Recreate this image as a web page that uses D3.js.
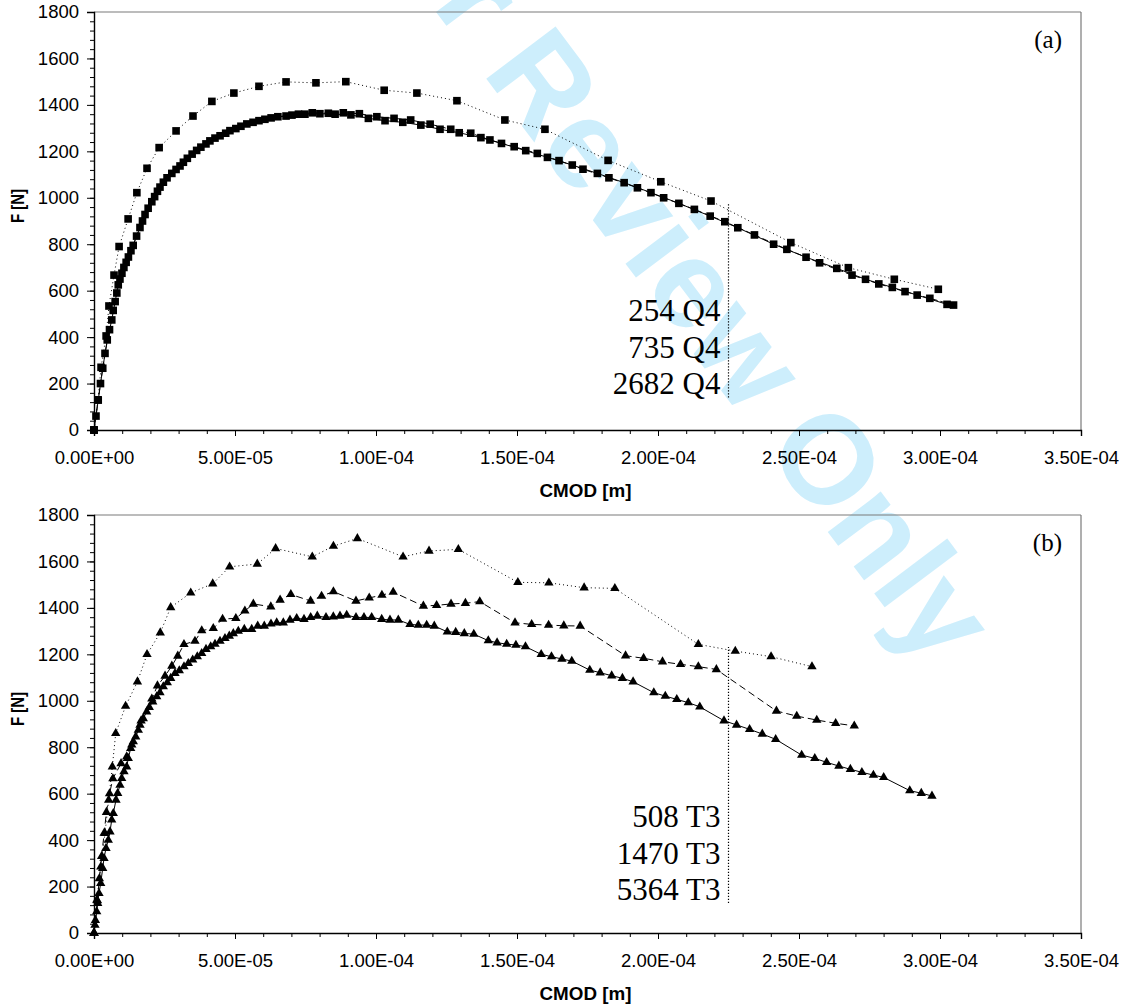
<!DOCTYPE html>
<html><head><meta charset="utf-8">
<script src="https://cdn.jsdelivr.net/npm/d3@7/dist/d3.min.js"></script>
<style>body{margin:0;background:#fff;} svg{display:block;}</style>
</head><body>
<svg id="chart" width="1127" height="1008"></svg>
<script>
// ---------- DATA (CMOD in micrometres, F in N) ----------
// Panel (a) – square markers
const aDottedX = [0,1.4,2.5,4.3,5.3,7.1,8.9,12.1,15.2,18.8,23.1,29.1,35.1,41.8,49.6,58.5,68.1,78.7,89.3,102.9,114.5,128.7,145.7,159.9,182.3,201.0,218.8,247.1,267.5,283.8,299.4];
const aDottedF = [0,130,270,405,534,667,790,909,1022,1127,1216,1288,1352,1415,1451,1480,1499,1495,1500,1463,1451,1418,1335,1295,1161,1069,986,807,699,649,606];
const aDashedX = [0,0.7,2.3,3.9,5.5,6.8,8.1,9.2,10.6,12.2,13.9,16.3,18.1,20.5,22.5,24.6,27.6,30.5,33.1,36.4,39.7,42.9,46.7,50.3,54.2,58.5,62.8,68.1,72.5,77.4,83.1,88.4,94.1,100.3,106.4,112.3,119.2,126.5,133.6,140.4,149.0,157.2,164.9,173.4,182.6,192.7,202.0,212.9,223.7,234.2,245.7,257.3,268.8,278.3,287.6,296.4,304.8];
const aDashedF = [0,60,200,330,432,515,590,650,700,745,795,872,928,983,1028,1067,1105,1137,1170,1204,1232,1257,1278,1298,1318,1332,1344,1352,1360,1366,1364,1366,1362,1349,1342,1335,1317,1295,1278,1249,1220,1191,1160,1123,1086,1043,1000,950,897,840,778,720,667,629,596,567,538];
const aSolidX = [0,1.5,3.1,4.7,6.3,7.5,8.6,9.9,11.4,13.1,15.1,17.2,19.2,21.5,23.4,25.9,29.1,31.7,34.8,37.9,41.1,44.7,48.2,52.1,56.4,60.6,65.2,70.2,74.8,80.1,85.5,91.1,97.3,103.2,109.5,115.9,122.7,129.5,137.2,144.5,153.1,160.8,169.6,178.5,188.0,197.5,207.4,218.5,228.3,241.0,252.5,263.4,273.6,283.1,291.9,302.5];
const aSolidF = [0,129,266,388,474,553,625,675,722,772,835,900,955,1005,1046,1086,1122,1153,1188,1218,1245,1267,1289,1308,1325,1338,1349,1356,1360,1362,1360,1357,1342,1332,1325,1313,1295,1280,1259,1234,1203,1174,1141,1105,1065,1022,976,921,871,800,744,696,649,614,581,541];

// Panel (b) – triangle markers
const bDottedX = [0,1.0,2.4,3.9,5.2,6.5,7.7,11.2,15.4,18.8,23.5,27.2,34.3,42.1,48.1,57.9,64.4,77.4,84.9,93.4,109.6,118.8,129.2,150.3,161.3,173.8,184.7,214.3,227.4,240.1,254.6];
const bDottedF = [0,142,285,429,573,716,860,977,1082,1200,1293,1402,1465,1504,1577,1589,1656,1620,1666,1699,1620,1645,1652,1510,1508,1487,1484,1243,1214,1190,1147];
const bDashedX = [0,0.5,1.2,1.9,2.7,3.6,4.4,5.5,6.7,9.6,11.6,13.4,16.7,20.5,22.5,25.2,27.6,29.7,31.9,35.8,38.2,42.3,45.6,50.3,53.5,56.5,62.7,66.0,69.8,76.8,80.7,84.9,92.9,97.6,102.1,106.1,116.8,121.5,126.6,131.7,136.8,149.3,155.2,161.2,166.6,172.4,188.5,194.9,201.6,208.0,214.3,220.7,242.0,249.2,256.3,263.0,269.6];
const bDashedF = [0,55,140,235,330,430,520,600,665,730,759,810,914,1008,1065,1107,1150,1193,1243,1257,1302,1312,1352,1355,1387,1417,1405,1434,1458,1430,1451,1470,1430,1443,1455,1468,1408,1411,1417,1420,1427,1336,1329,1326,1323,1322,1194,1183,1168,1157,1147,1135,956,934,917,903,892];
const bSolidX = [0,0.35,0.96,1.31,1.77,2.38,3.09,3.55,4.26,5.07,5.67,6.28,6.84,7.80,8.40,9.22,9.82,10.64,11.60,12.16,13.01,13.94,14.79,15.71,16.31,17.48,18.69,19.61,20.82,22.23,23.40,24.57,25.99,27.20,28.72,30.25,31.91,33.44,34.99,36.63,38.19,39.72,41.38,42.91,44.68,46.45,47.98,49.40,51.17,53.30,55.92,58.05,60.39,62.76,64.79,67.13,69.50,71.88,74.47,76.84,79.18,82.27,84.86,87.23,89.61,92.91,95.74,98.47,102.02,104.96,107.91,112.05,115.00,117.97,120.67,125.28,128.26,131.31,134.68,139.82,142.94,146.34,149.61,153.01,158.58,162.23,165.92,169.43,175.81,179.50,183.58,187.37,191.17,198.51,202.59,206.66,210.74,214.82,223.40,227.87,232.48,236.98,241.73,250.95,255.60,259.78,264.14,268.22,272.30,276.38,280.03,289.28,293.36,297.15];
const bSolidF = [0,34,92,128,171,214,279,322,365,400,436,487,515,573,602,637,666,695,716,752,795,824,845,874,896,924,953,972,996,1018,1035,1061,1078,1097,1118,1130,1147,1161,1176,1190,1204,1222,1233,1244,1257,1269,1279,1290,1300,1308,1308,1322,1322,1331,1336,1336,1348,1355,1351,1359,1365,1359,1362,1365,1369,1359,1359,1359,1351,1348,1348,1329,1326,1326,1322,1297,1295,1290,1287,1259,1250,1244,1240,1233,1200,1190,1180,1171,1132,1121,1108,1097,1082,1035,1020,1006,992,974,914,896,877,857,834,766,752,735,719,705,692,680,670,613,602,590];

// Annotations
const aLabels = ["254 Q4","735 Q4","2682 Q4"];
const bLabels = ["508 T3","1470 T3","5364 T3"];
const markerCMOD = 225;           // µm, vertical dotted reference line
const aMarkerF = [140, 980];
const bMarkerF = [129, 1232];

// Axes
const xMajorTicks = [0,50,100,150,200,250,300,350];
const xTickLabels = ["0.00E+00","5.00E-05","1.00E-04","1.50E-04","2.00E-04","2.50E-04","3.00E-04","3.50E-04"];
const yMajorTicks = [0,200,400,600,800,1000,1200,1400,1600,1800];
const yTickLabels = ["0","200","400","600","800","1000","1200","1400","1600","1800"];

// ---------- DRAWING ----------
const svg = d3.select("#chart");
const L = 94, R = 1081;

// watermark
svg.append("text")
  .attr("transform","translate(338,-118) rotate(53)")
  .attr("font-family","Liberation Sans, Arial, sans-serif")
  .attr("font-weight","bold")
  .attr("font-size",126)
  .attr("fill","#cdeefc")
  .text("For Review Only");

function zip(xs, ys){ return xs.map((x,i)=>[x, ys[i]]); }

function drawPanel(top, bottom, series, symbol, symSize, tag, labels, markerF){
  const x = d3.scaleLinear().domain([0,350]).range([L,R]);
  const y = d3.scaleLinear().domain([0,1800]).range([bottom,top]);
  const g = svg.append("g");

  // frame top/right
  g.append("line").attr("x1",L).attr("x2",R).attr("y1",top).attr("y2",top)
    .attr("stroke","#7a7a7a").attr("stroke-width",1.2);
  g.append("line").attr("x1",R).attr("x2",R).attr("y1",top).attr("y2",bottom)
    .attr("stroke","#7a7a7a").attr("stroke-width",1.2);

  // minor ticks
  const yMinor = g.append("g").attr("transform",`translate(${L},0)`)
    .call(d3.axisLeft(y).tickValues(d3.range(0,1801,40)).tickSize(4).tickFormat(""));
  yMinor.select(".domain").remove();
  const xMinor = g.append("g").attr("transform",`translate(0,${bottom})`)
    .call(d3.axisBottom(x).tickValues(d3.range(0,351,10)).tickSize(4).tickFormat(""));
  xMinor.select(".domain").remove();

  // major axes
  const ya = g.append("g").attr("transform",`translate(${L},0)`)
    .call(d3.axisLeft(y).tickValues(yMajorTicks).tickSize(7).tickPadding(8)
      .tickFormat((d,i)=>yTickLabels[i]));
  const xa = g.append("g").attr("transform",`translate(0,${bottom})`)
    .call(d3.axisBottom(x).tickValues(xMajorTicks).tickSize(6).tickPadding(15)
      .tickFormat((d,i)=>xTickLabels[i]));
  [ya,xa].forEach(a=>{
    a.selectAll("text").attr("font-family","Liberation Sans, Arial, sans-serif").attr("font-size",18.5).attr("fill","#000");
    a.select(".domain").attr("stroke","#000").attr("stroke-width",1.4);
  });
  g.selectAll(".tick line").attr("stroke","#000").attr("stroke-width",1);

  // axis titles
  g.append("text").attr("x",(L+R)/2 - 2).attr("y",bottom+67)
    .attr("text-anchor","middle").attr("font-family","Liberation Sans, Arial, sans-serif")
    .attr("font-weight","bold").attr("font-size",19)
    .attr("textLength",92).attr("lengthAdjust","spacingAndGlyphs").text("CMOD [m]");
  g.append("text").attr("transform",`translate(24,${(top+bottom)/2 - 15}) rotate(-90)`)
    .attr("text-anchor","middle").attr("font-family","Liberation Sans, Arial, sans-serif")
    .attr("font-weight","bold").attr("font-size",19)
    .attr("textLength",34).attr("lengthAdjust","spacingAndGlyphs").text("F [N]");

  // panel tag
  g.append("text").attr("x",1062).attr("y",top+36).attr("text-anchor","end")
    .attr("font-family","Liberation Serif, Times New Roman, serif").attr("font-size",25).text(tag);

  // vertical reference line + labels
  g.append("line").attr("x1",x(markerCMOD)).attr("x2",x(markerCMOD))
    .attr("y1",y(markerF[0])).attr("y2",y(markerF[1]))
    .attr("stroke","#000").attr("stroke-width",1.2).attr("stroke-dasharray","1.2,1.8");
  labels.forEach((t,i)=>{
    g.append("text").attr("x",x(markerCMOD)-8)
      .attr("y",y(markerF[0]) - 3 - (labels.length-1-i)*36.5)
      .attr("text-anchor","end").attr("font-family","Liberation Serif, Times New Roman, serif")
      .attr("font-size",31).attr("fill","#000").text(t);
  });

  // series
  const line = d3.line().x(d=>x(d[0])).y(d=>y(d[1]));
  const sym = d3.symbol().type(symbol).size(symSize);
  series.forEach(s=>{
    const pts = zip(s.x, s.f);
    g.append("path").datum(pts).attr("d",line).attr("fill","none")
      .attr("stroke","#000").attr("stroke-width",1)
      .attr("stroke-dasharray",s.dash);
    g.selectAll(null).data(pts).enter().append("path")
      .attr("d",sym).attr("transform",d=>`translate(${x(d[0])},${y(d[1])})`)
      .attr("fill","#000");
  });
}

drawPanel(12, 430, [
  {x:aDottedX, f:aDottedF, dash:"1,3"},
  {x:aDashedX, f:aDashedF, dash:"6,3"},
  {x:aSolidX,  f:aSolidF,  dash:null}
], d3.symbolSquare, 58, "(a)", aLabels, aMarkerF);

drawPanel(515, 933, [
  {x:bDottedX, f:bDottedF, dash:"1,3"},
  {x:bDashedX, f:bDashedF, dash:"7,4"},
  {x:bSolidX,  f:bSolidF,  dash:null}
], d3.symbolTriangle, 38, "(b)", bLabels, bMarkerF);
</script>
</body></html>
